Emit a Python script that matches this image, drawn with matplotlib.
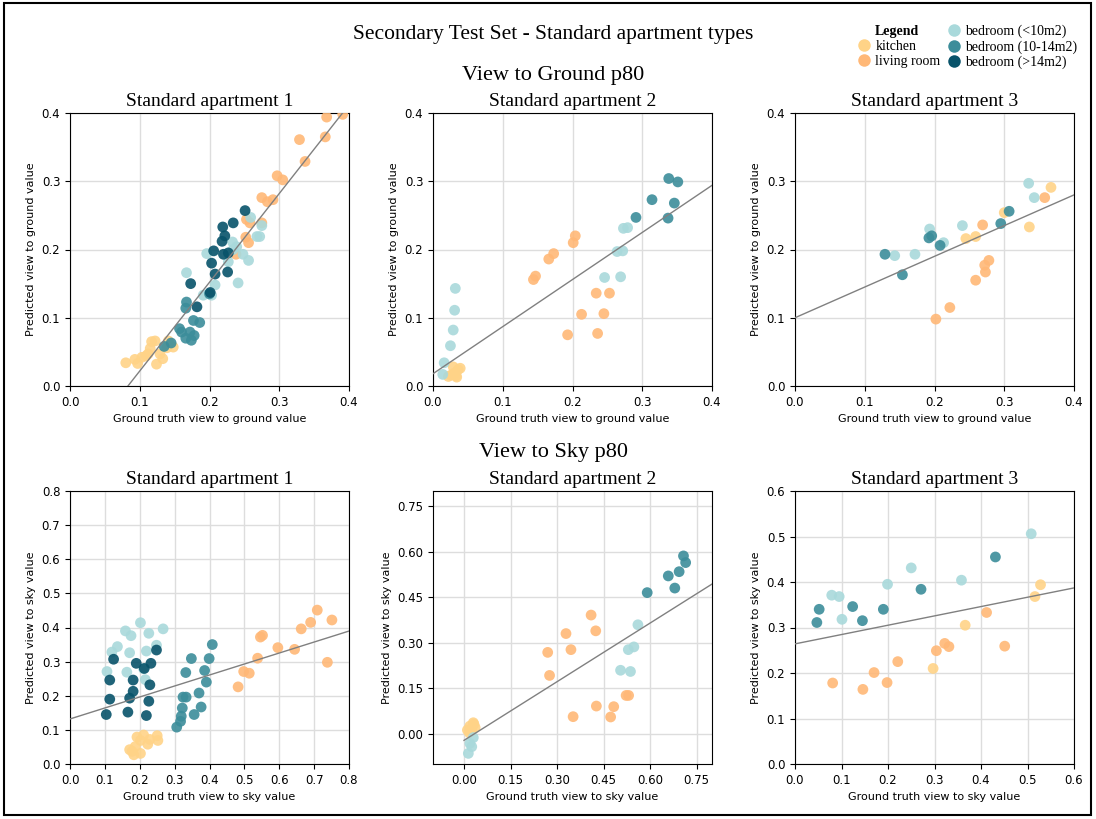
import numpy as np
import matplotlib
matplotlib.use("Agg")
import matplotlib.pyplot as plt
from matplotlib.lines import Line2D
from matplotlib.patches import Rectangle

# room categories and colours
rooms = ["kitchen", "living room", "bedroom (<10m2)", "bedroom (10-14m2)", "bedroom (>14m2)"]
room_colors = ["#FFD387", "#FFB877", "#A9D9DB", "#3C8D9A", "#08536A"]

# ---- View to Ground p80 ----
# apartment 1
g1_kitchen_x = [0.080, 0.093, 0.097, 0.103, 0.109, 0.112, 0.117, 0.122, 0.124, 0.129, 0.133, 0.139, 0.141, 0.148, 0.115]
g1_kitchen_y = [0.034, 0.039, 0.033, 0.042, 0.044, 0.047, 0.065, 0.066, 0.032, 0.047, 0.040, 0.056, 0.066, 0.057, 0.055]
g1_living_x = [0.391, 0.368, 0.366, 0.329, 0.337, 0.297, 0.305, 0.275, 0.283, 0.291, 0.253, 0.258, 0.275, 0.252, 0.256, 0.238]
g1_living_y = [0.398, 0.394, 0.365, 0.361, 0.329, 0.308, 0.302, 0.276, 0.270, 0.273, 0.244, 0.239, 0.239, 0.218, 0.210, 0.193]
g1_small_x = [0.259, 0.275, 0.268, 0.272, 0.233, 0.239, 0.196, 0.227, 0.248, 0.256, 0.167, 0.241, 0.208, 0.191, 0.203, 0.234]
g1_small_y = [0.247, 0.235, 0.219, 0.219, 0.211, 0.204, 0.194, 0.182, 0.193, 0.184, 0.166, 0.151, 0.148, 0.133, 0.133, 0.200]
g1_mid_x = [0.167, 0.166, 0.177, 0.186, 0.157, 0.160, 0.166, 0.174, 0.178, 0.172, 0.145, 0.135, 0.200]
g1_mid_y = [0.123, 0.114, 0.096, 0.093, 0.084, 0.079, 0.070, 0.067, 0.074, 0.079, 0.063, 0.058, 0.135]
g1_large_x = [0.251, 0.234, 0.219, 0.222, 0.218, 0.206, 0.220, 0.227, 0.203, 0.208, 0.226, 0.173, 0.201, 0.182]
g1_large_y = [0.257, 0.239, 0.233, 0.220, 0.212, 0.198, 0.193, 0.195, 0.180, 0.164, 0.167, 0.150, 0.137, 0.116]

# apartment 2
g2_kitchen_x = [0.022, 0.029, 0.034, 0.036, 0.039, 0.031, 0.026, 0.033]
g2_kitchen_y = [0.014, 0.028, 0.013, 0.024, 0.026, 0.019, 0.016, 0.015]
g2_living_x = [0.144, 0.147, 0.166, 0.173, 0.201, 0.204, 0.213, 0.245, 0.234, 0.253, 0.193, 0.236]
g2_living_y = [0.156, 0.161, 0.186, 0.194, 0.210, 0.220, 0.105, 0.106, 0.136, 0.136, 0.075, 0.077]
g2_small_x = [0.032, 0.031, 0.029, 0.025, 0.016, 0.014, 0.246, 0.269, 0.264, 0.272, 0.273, 0.279]
g2_small_y = [0.143, 0.111, 0.082, 0.059, 0.034, 0.017, 0.159, 0.160, 0.197, 0.198, 0.231, 0.232]
g2_mid_x = [0.338, 0.351, 0.314, 0.346, 0.291, 0.337]
g2_mid_y = [0.304, 0.299, 0.273, 0.268, 0.247, 0.246]
g2_large_x = []
g2_large_y = []

# apartment 3
g3_kitchen_x = [0.367, 0.300, 0.245, 0.259, 0.336]
g3_kitchen_y = [0.291, 0.254, 0.216, 0.219, 0.233]
g3_living_x = [0.358, 0.269, 0.278, 0.272, 0.273, 0.259, 0.222, 0.202]
g3_living_y = [0.276, 0.236, 0.184, 0.177, 0.167, 0.155, 0.115, 0.098]
g3_small_x = [0.335, 0.343, 0.240, 0.193, 0.213, 0.143, 0.172]
g3_small_y = [0.297, 0.276, 0.235, 0.230, 0.210, 0.191, 0.193]
g3_mid_x = [0.129, 0.154, 0.196, 0.192, 0.208, 0.295, 0.307]
g3_mid_y = [0.193, 0.163, 0.220, 0.217, 0.206, 0.238, 0.256]
g3_large_x = []
g3_large_y = []

# ---- View to Sky p80 ----
# apartment 1
s1_kitchen_x = [0.192, 0.211, 0.202, 0.229, 0.223, 0.250, 0.252, 0.178, 0.187, 0.202, 0.183, 0.171]
s1_kitchen_y = [0.079, 0.085, 0.069, 0.072, 0.058, 0.083, 0.069, 0.037, 0.051, 0.031, 0.027, 0.042]
s1_living_x = [0.709, 0.690, 0.751, 0.663, 0.552, 0.546, 0.596, 0.644, 0.538, 0.738, 0.498, 0.514, 0.482]
s1_living_y = [0.451, 0.415, 0.422, 0.396, 0.377, 0.372, 0.341, 0.336, 0.310, 0.298, 0.271, 0.266, 0.226]
s1_small_x = [0.202, 0.159, 0.175, 0.226, 0.267, 0.136, 0.120, 0.171, 0.248, 0.219, 0.106, 0.163, 0.211, 0.216]
s1_small_y = [0.414, 0.390, 0.376, 0.383, 0.396, 0.344, 0.328, 0.326, 0.348, 0.331, 0.271, 0.269, 0.279, 0.247]
s1_mid_x = [0.408, 0.348, 0.399, 0.386, 0.332, 0.391, 0.370, 0.324, 0.333, 0.322, 0.376, 0.356, 0.319, 0.317, 0.306]
s1_mid_y = [0.350, 0.309, 0.309, 0.274, 0.268, 0.240, 0.208, 0.196, 0.196, 0.164, 0.167, 0.145, 0.140, 0.125, 0.108]
s1_large_x = [0.125, 0.114, 0.190, 0.232, 0.248, 0.181, 0.229, 0.213, 0.181, 0.171, 0.114, 0.226, 0.104, 0.166, 0.219]
s1_large_y = [0.307, 0.246, 0.295, 0.295, 0.334, 0.246, 0.232, 0.280, 0.213, 0.193, 0.190, 0.184, 0.145, 0.152, 0.142]

# apartment 2
s2_kitchen_x = [0.030, 0.019, 0.011, 0.025, 0.036, 0.017, 0.032]
s2_kitchen_y = [0.036, 0.025, 0.012, 0.016, 0.020, 0.003, 0.031]
s2_living_x = [0.410, 0.425, 0.329, 0.345, 0.270, 0.276, 0.427, 0.483, 0.352, 0.473, 0.523, 0.531]
s2_living_y = [0.391, 0.339, 0.330, 0.277, 0.268, 0.192, 0.091, 0.089, 0.056, 0.055, 0.126, 0.126]
s2_small_x = [0.561, 0.548, 0.530, 0.505, 0.537, 0.019, 0.025, 0.014, 0.030]
s2_small_y = [0.359, 0.286, 0.277, 0.209, 0.205, -0.032, -0.043, -0.065, -0.013]
s2_mid_x = [0.708, 0.715, 0.659, 0.694, 0.680, 0.591]
s2_mid_y = [0.586, 0.564, 0.520, 0.534, 0.480, 0.465]
s2_large_x = []
s2_large_y = []

# apartment 3
s3_kitchen_x = [0.528, 0.516, 0.297, 0.366]
s3_kitchen_y = [0.394, 0.368, 0.210, 0.305]
s3_living_x = [0.412, 0.451, 0.322, 0.331, 0.304, 0.221, 0.170, 0.198, 0.081, 0.146]
s3_living_y = [0.333, 0.259, 0.265, 0.258, 0.249, 0.225, 0.201, 0.179, 0.178, 0.164]
s3_small_x = [0.508, 0.250, 0.358, 0.199, 0.079, 0.095, 0.101]
s3_small_y = [0.506, 0.431, 0.404, 0.395, 0.371, 0.368, 0.318]
s3_mid_x = [0.431, 0.271, 0.052, 0.124, 0.190, 0.047, 0.145]
s3_mid_y = [0.455, 0.384, 0.340, 0.346, 0.340, 0.311, 0.315]
s3_large_x = []
s3_large_y = []

# fitted lines (intercept, slope)
fit_lines = [(-0.108, 1.30), (0.018, 0.69), (0.100, 0.45),
             (0.132, 0.322), (-0.022, 0.644), (0.264, 0.205)]

panels = [
    [(g1_kitchen_x, g1_kitchen_y), (g1_living_x, g1_living_y), (g1_small_x, g1_small_y),
     (g1_mid_x, g1_mid_y), (g1_large_x, g1_large_y)],
    [(g2_kitchen_x, g2_kitchen_y), (g2_living_x, g2_living_y), (g2_small_x, g2_small_y),
     (g2_mid_x, g2_mid_y), (g2_large_x, g2_large_y)],
    [(g3_kitchen_x, g3_kitchen_y), (g3_living_x, g3_living_y), (g3_small_x, g3_small_y),
     (g3_mid_x, g3_mid_y), (g3_large_x, g3_large_y)],
    [(s1_kitchen_x, s1_kitchen_y), (s1_living_x, s1_living_y), (s1_small_x, s1_small_y),
     (s1_mid_x, s1_mid_y), (s1_large_x, s1_large_y)],
    [(s2_kitchen_x, s2_kitchen_y), (s2_living_x, s2_living_y), (s2_small_x, s2_small_y),
     (s2_mid_x, s2_mid_y), (s2_large_x, s2_large_y)],
    [(s3_kitchen_x, s3_kitchen_y), (s3_living_x, s3_living_y), (s3_small_x, s3_small_y),
     (s3_mid_x, s3_mid_y), (s3_large_x, s3_large_y)],
]

limits = [(0, 0.4), (0, 0.4), (0, 0.4), (0, 0.8), (-0.1, 0.8), (0, 0.6)]
ticks = [np.arange(0, 0.41, 0.1), np.arange(0, 0.41, 0.1), np.arange(0, 0.41, 0.1),
         np.arange(0, 0.81, 0.1), np.arange(0, 0.76, 0.15), np.arange(0, 0.61, 0.1)]
tick_fmt = ["%.1f", "%.1f", "%.1f", "%.1f", "%.2f", "%.1f"]
titles = ["Standard apartment 1", "Standard apartment 2", "Standard apartment 3"] * 2
xlabels = ["Ground truth view to ground value"] * 3 + ["Ground truth view to sky value"] * 3
ylabels = ["Predicted view to ground value"] * 3 + ["Predicted view to sky value"] * 3

serif = "Liberation Serif"

fig = plt.figure(figsize=(10.96, 8.19), dpi=100)
fig.patches.append(Rectangle((0.004, 0.005), 0.991, 0.991, transform=fig.transFigure,
                             fill=False, edgecolor="black", linewidth=1.5))

lefts = [70, 433, 795]
tops = [113, 491]
W, H = 1096, 819
aw, ah = 279, 273

for i in range(6):
    row, col = divmod(i, 3)
    ax = fig.add_axes([lefts[col] / W, 1 - (tops[row] + ah) / H, aw / W, ah / H])
    for (xs, ys), c in zip(panels[i], room_colors):
        if len(xs):
            ax.scatter(xs, ys, s=60, color=c, alpha=0.9, edgecolors="none", zorder=3)
    lo, hi = limits[i]
    b0, b1 = fit_lines[i]
    xx = np.array([max(lo, 0.0), hi])
    ax.plot(xx, b0 + b1 * xx, color="#808080", linewidth=1, zorder=4)
    ax.set_xlim(lo, hi)
    ax.set_ylim(lo, hi)
    ax.set_xticks(ticks[i])
    ax.set_yticks(ticks[i])
    ax.set_xticklabels([tick_fmt[i] % t for t in ticks[i]])
    ax.set_yticklabels([tick_fmt[i] % t for t in ticks[i]])
    ax.tick_params(labelsize=8.5, length=3.5)
    ax.grid(True, color="#dddddd", linewidth=1, zorder=0)
    ax.set_axisbelow(True)
    ax.set_xlabel(xlabels[i], fontsize=8)
    ax.set_ylabel(ylabels[i], fontsize=8)
    ax.set_title(titles[i], fontsize=14, family=serif, pad=5)

fig.text(0.505, 0.958, "Secondary Test Set - Standard apartment types", ha="center", va="center",
         fontsize=15.5, family=serif)
fig.text(0.505, 0.908, "View to Ground p80", ha="center", va="center", fontsize=16, family=serif)
fig.text(0.505, 0.448, "View to Sky p80", ha="center", va="center", fontsize=16, family=serif)

# legend: title in first slot of the first column
handles = [Line2D([], [], linestyle="none", marker=None)]
labels = ["Legend"]
for r, c in zip(rooms, room_colors):
    handles.append(Line2D([], [], linestyle="none", marker="o", markersize=9,
                          markerfacecolor=c, markeredgecolor="none"))
    labels.append(r)
leg = fig.legend(handles, labels, ncol=2, loc="upper left", bbox_to_anchor=(0.772, 0.985),
                 frameon=False, prop={"family": serif, "size": 10},
                 handlelength=0.8, handletextpad=0.4, columnspacing=0.6, labelspacing=0.15)
leg.get_texts()[0].set_fontweight("bold")

fig.savefig("out.png", dpi=100)
